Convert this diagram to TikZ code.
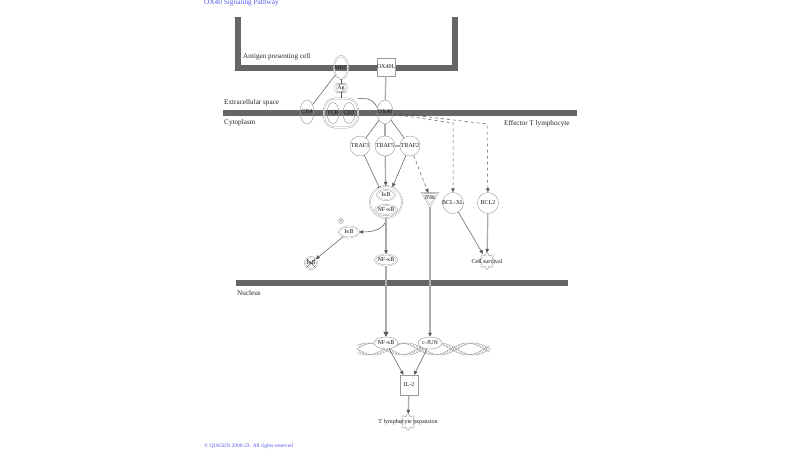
\documentclass[tikz,border=0pt]{standalone}
\usepackage{fontspec}
\setmainfont{Liberation Serif}
\usetikzlibrary{shapes.geometric, arrows.meta}

\definecolor{membrane}{HTML}{666666}
\definecolor{outline}{HTML}{9A9A9A}
\definecolor{edge}{HTML}{555555}
\definecolor{paleedge}{HTML}{ABABAB}
\definecolor{qiablue}{HTML}{5555EE}

\newcommand\molname[1]{\makebox[0pt]{#1}}

\tikzset{
	mol/.style={draw=outline, line width=0.45pt, ellipse, inner sep=0pt, text=black!90, font=\fontsize{6}{7}\selectfont},
	dblmol/.style={mol, line width=0.35pt, double=white, double distance=0.9pt},
	gene/.style={mol, rectangle, fill=white, minimum size=18pt},
	fam/.style={mol, circle, minimum size=20pt},
	link/.style={draw=edge, line width=0.5pt},
	biglink/.style={draw=paleedge, line width=1.3pt},
	tip/.style={-{Triangle[length=4pt, width=3.5pt, color=edge]}},
	opentip/.style={-{Triangle[open, length=5pt, width=5pt, color=edge, fill=white]}},
	membranebar/.style={draw=membrane, line width=6pt},
	region/.style={font=\fontsize{7.2}{8}\selectfont, text=black!85, anchor=west, inner sep=0pt},
	dnaline/.style={draw=outline, line width=0.35pt},
}

\begin{document}
\begin{tikzpicture}[x=1pt, y=-1pt]
	\useasboundingbox (0,0) rectangle (800,450);

	\draw[membranebar] (238,17) -- (238,67.5) -- (455,67.5) -- (455,17);
	\draw[membranebar] (223,112.5) -- (577,112.5);
	\draw[membranebar] (236,282.5) -- (568,282.5);

	\node[region, text=qiablue, font=\fontsize{7.3}{8}\selectfont] (title) at (204,3) {OX40 Signaling Pathway};
	\node[region, text=qiablue, font=\fontsize{5.4}{6}\selectfont] (footer) at (204,446) {© QIAGEN 2000-23. All rights reserved};
	\node[region] (apc) at (243,57) {Antigen presenting cell};
	\node[region] (extra) at (224,103) {Extracellular space};
	\node[region] (cyto) at (224,123) {Cytoplasm};
	\node[region] (effector) at (504,124) {Effector T lymphocyte};
	\node[region] (nucleus) at (237,293) {Nucleus};

	% helix
	\foreach \ph in {0,180} {
		\draw[dnaline] plot[domain=357:490, samples=80] (\x, {349+6*sin(5.4*(\x-357)+\ph)});
		\draw[dnaline] plot[domain=357:490, samples=80] (\x, {349+6*sin(5.4*(\x-357)+\ph+35)});
		\foreach \x in {359,362,...,486}
			\draw[dnaline] (\x, {349+6*sin(5.4*(\x-357)+\ph)}) -- (\x+2, {349+6*sin(5.4*(\x+2-357)+\ph+35)});
	}

	\node[dblmol, minimum width=14pt, minimum height=23pt] (mhc) at (341,67.5) {\molname{MHC}};
	\node[gene] (ox40l) at (386,67) {\molname{OX40L}};
	\node[dblmol, rectangle, rounded corners=1.5pt, minimum width=11pt, minimum height=8pt] (ag) at (341,88) {\molname{Ag}};
	\node[mol, minimum width=14pt, minimum height=24pt] (cd4) at (307,112) {\molname{CD4}};
	\node[dblmol, rectangle, rounded corners=11pt, minimum width=34pt, minimum height=29pt] (tcrc) at (341,113) {};
	\node[mol, minimum width=12pt, minimum height=21pt] (tcr) at (333,113) {\molname{TCR}};
	\node[mol, minimum width=12pt, minimum height=21pt] (cd3) at (349,113) {\molname{CD3}};
	\node[mol, minimum width=16pt, minimum height=24pt] (ox40) at (385,112) {\molname{OX40}};

	\node[fam] (traf3) at (360,146) {\molname{TRAF3}};
	\node[fam] (traf5) at (385,146) {\molname{TRAF5}};
	\node[fam] (traf2) at (410,146) {\molname{TRAF2}};

	\node[dblmol, circle, minimum size=32pt] (cplx) at (386,202) {};
	\node[dblmol, minimum width=18pt, minimum height=10pt] (ikbc) at (386,195) {\molname{IκB}};
	\node[dblmol, minimum width=22pt, minimum height=10pt] (nfkbc) at (386,210) {\molname{NF-κB}};

	\node[dblmol, regular polygon, regular polygon sides=3, shape border rotate=180, minimum size=18pt] (jnk) at (430,197.5) {\molname{JNK}};
	\node[fam, minimum size=21pt] (bclxl) at (453,203) {\molname{BCL-XL}};
	\node[fam, minimum size=21pt] (bcl2) at (488,203) {\molname{BCL2}};
	\coordinate (bendxl) at (453,123);
	\coordinate (bendbcl) at (487,124);

	\node[dblmol, minimum width=20pt, minimum height=11pt] (pikb) at (349,232) {\molname{IκB}};
	\node[mol, circle, minimum size=5pt, font=\fontsize{3.5}{4}\selectfont] (phos) at (341,221) {\molname{P}};
	\node[dblmol, circle, minimum size=12pt] (dikb) at (311,263) {\molname{IκB}};
	\node[dblmol, minimum width=22pt, minimum height=11pt] (nfkb) at (386,260) {\molname{NF-κB}};

	\node[mol, fill=white, minimum width=24pt, minimum height=12pt] (nfkbn) at (386,343) {\molname{NF-κB}};
	\node[mol, fill=white, minimum width=24pt, minimum height=12pt] (cjun) at (430,343) {\molname{c-JUN}};
	\node[gene, minimum height=20pt] (il2) at (409,385) {\molname{IL-2}};

	\node[circle, minimum size=16pt, inner sep=0pt] (survival) at (487,261) {};
	\node[circle, minimum size=16pt, inner sep=0pt] (expansion) at (408,422) {};
	\foreach \g in {survival, expansion}
		\draw[dnaline, line width=0.45pt, shift={(\g.center)}] plot[smooth cycle, domain=0:352.5, samples=48] (\x:{7+1.4*cos(8*\x)});
	\node[mol, draw=none] (survivaltext) at (survival) {Cell survival};
	\node[mol, draw=none] (expansiontext) at (expansion) {T lymphocyte expansion};

	\draw[link] (dikb.north west) -- (dikb.south east);
	\draw[link] (dikb.south west) -- (dikb.north east);

	\draw[link] (mhc) -- (cd4);
	\draw[link] (mhc) -- (ag);
	\draw[link] (ag) -- (tcrc);
	\draw[link] (tcrc.40) .. controls (362,98) and (372,97) .. (ox40.150);
	\draw[biglink] (ox40l) -- (ox40);

	\draw[link] (ox40) -- (traf3);
	\draw[biglink] (ox40) -- (traf5);
	\draw[link] (ox40) -- (traf2);
	\draw[biglink] (traf5) -- (traf2);

	\draw[link, -{Bar[width=4pt]}] (traf3) -- (cplx);
	\draw[biglink, tip] (traf5) -- (cplx);
	\draw[link, tip] (traf2) -- (cplx);
	\draw[link, dashed, tip] (traf2) -- (jnk);
	\draw[link, dashed, tip] (ox40.-15) -- (bendxl) -- (bclxl);
	\draw[link, dashed, tip] (ox40.-5) -- (bendbcl) -- (bcl2);

	\draw[link, tip] (bclxl) -- (survival);
	\draw[biglink, tip] (bcl2) -- (survival);

	\draw[link, tip] (cplx.south) to[out=-90, in=0] (pikb.east);
	\draw[link, tip] (pikb) -- (dikb);
	\draw[biglink, tip] (cplx) -- (nfkb);
	\draw[biglink, opentip] (nfkb) -- (nfkbn);
	\draw[biglink, tip] (jnk) -- (cjun);

	\draw[link, tip] (nfkbn) -- (il2);
	\draw[link, tip] (cjun) -- (il2);
	\draw[biglink, tip] (il2) -- (expansion);

\end{tikzpicture}
\end{document}
